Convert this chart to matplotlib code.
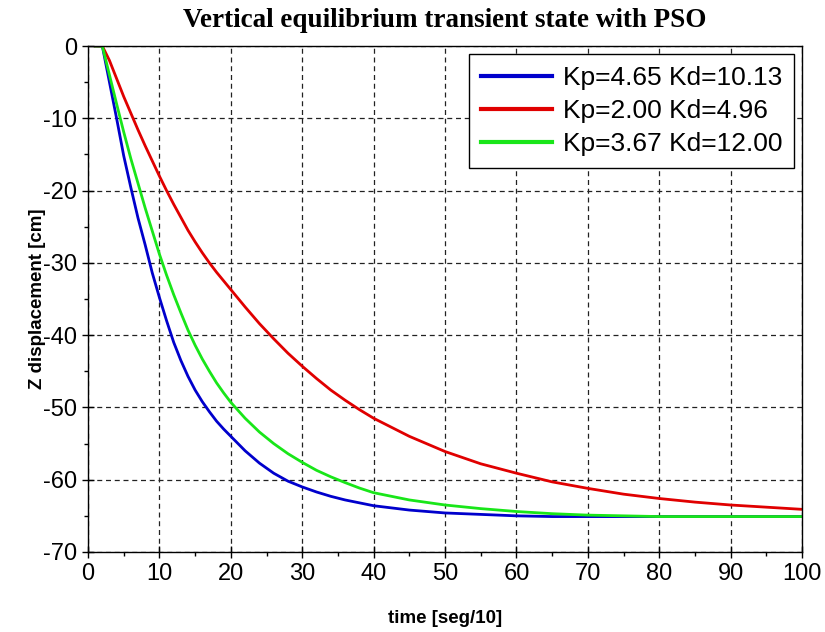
import matplotlib
matplotlib.use('Agg')
import matplotlib.pyplot as plt

# Werte (Zeit in seg/10, Verschiebung in cm)
t = [1, 2, 3, 4, 5, 6, 7, 8, 9, 10, 11, 12, 13, 14, 15, 16, 17, 18, 19, 20,
     22, 24, 26, 28, 30, 32, 34, 36, 38, 40, 45, 50, 55, 60, 65, 70, 75, 80,
     85, 90, 95, 100]

z_blue = [0, 0, -5.0, -10.0, -15.2, -19.6, -23.8, -27.5, -31.4, -34.8, -38.0, -41.0,
          -43.5, -45.7, -47.6, -49.2, -50.6, -51.9, -53.0, -54.0,
          -56.0, -57.7, -59.1, -60.2, -61.0, -61.7, -62.3, -62.8, -63.2, -63.6,
          -64.2, -64.6, -64.8, -65.0, -65.1, -65.1, -65.1, -65.1, -65.1, -65.1, -65.1, -65.1]

z_red = [0, 0, -2.0, -4.5, -7.0, -9.3, -11.6, -13.8, -15.9, -18.0, -20.0, -21.9,
         -23.7, -25.5, -27.1, -28.6, -30.0, -31.3, -32.5, -33.7,
         -36.1, -38.4, -40.5, -42.5, -44.3, -46.0, -47.6, -49.0, -50.3, -51.5,
         -54.0, -56.1, -57.8, -59.1, -60.3, -61.2, -62.0, -62.6, -63.1, -63.5, -63.8, -64.1]

z_green = [0, 0, -4.0, -8.0, -11.9, -15.6, -19.0, -22.4, -25.6, -28.8, -31.7, -34.4,
           -36.9, -39.3, -41.4, -43.3, -45.0, -46.6, -48.0, -49.3,
           -51.5, -53.4, -55.0, -56.4, -57.6, -58.7, -59.6, -60.4, -61.15, -61.8,
           -62.8, -63.5, -64.0, -64.4, -64.7, -64.9, -65.0, -65.1, -65.1, -65.1, -65.1, -65.1]

labels = ['Kp=4.65 Kd=10.13', 'Kp=2.00 Kd=4.96', 'Kp=3.67 Kd=12.00']
colors = ['#0000cc', '#e00000', '#19e619']

plt.rcParams['font.family'] = ['Liberation Sans', 'DejaVu Sans']
plt.rcParams['axes.unicode_minus'] = False

fig = plt.figure(figsize=(8.25, 6.32), dpi=100)
ax = fig.add_axes([0.1067, 0.1266, 0.8655, 0.8006])

ax.plot(t, z_blue, color=colors[0], lw=2.0, label=labels[0])
ax.plot(t, z_red, color=colors[1], lw=2.0, label=labels[1])
ax.plot(t, z_green, color=colors[2], lw=2.0, label=labels[2])

ax.set_xlim(0, 100)
ax.set_ylim(-70, 0)
ax.set_xticks(range(0, 101, 10))
ax.set_yticks(range(-70, 1, 10))
ax.set_xticks(range(5, 100, 10), minor=True)
ax.set_yticks(range(-65, 0, 10), minor=True)
ax.tick_params(axis='both', which='major', direction='inout', length=8, width=1,
               labelsize=17, pad=4)
ax.tick_params(axis='both', which='minor', direction='out', length=3, width=1)

ax.grid(True, which='major', color='#222222', linestyle=(0, (4, 3)), lw=0.9)
for s in ax.spines.values():
    s.set_linewidth(1.0)

ax.set_xlabel('time [seg/10]', fontsize=13.5, fontweight='bold', labelpad=18)
ax.set_ylabel('Z displacement [cm]', fontsize=13.5, fontweight='bold', labelpad=-2)
ax.set_title('Vertical equilibrium transient state with PSO', fontsize=19.5,
             fontweight='bold', family=['Liberation Serif'], pad=14)

leg = ax.legend(loc='upper right', fontsize=19, handlelength=2.7, handletextpad=0.4,
                borderaxespad=0.3, fancybox=False, framealpha=1, edgecolor='black',
                labelspacing=0.35, borderpad=0.45)
leg.get_frame().set_linewidth(1.0)
for line in leg.get_lines():
    line.set_linewidth(3)

fig.savefig('out.png', dpi=100)
